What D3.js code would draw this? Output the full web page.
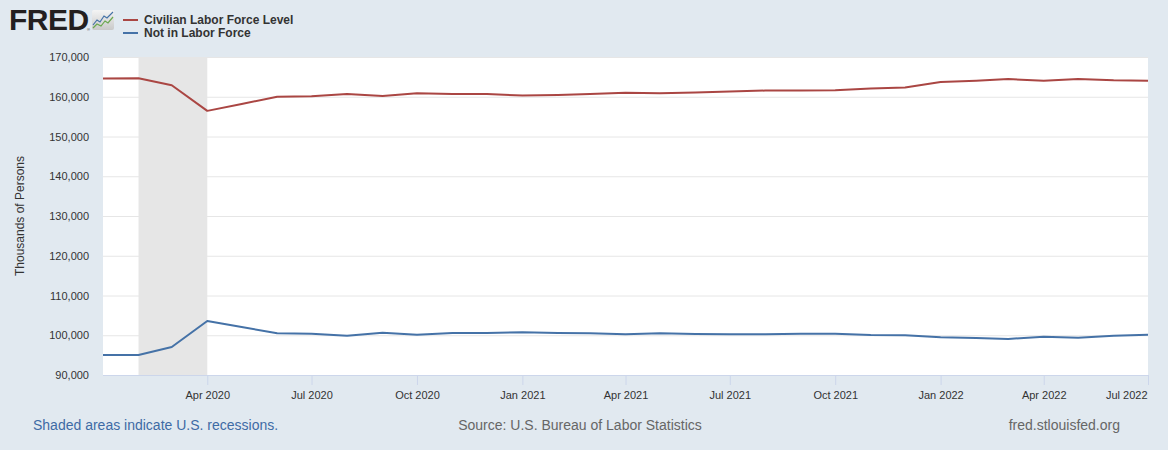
<!DOCTYPE html>
<html>
<head>
<meta charset="utf-8">
<script src="https://cdn.jsdelivr.net/npm/d3@7"></script>
<style>
html,body{margin:0;padding:0;background:#e1e9f0;}
svg{display:block;}
</style>
</head>
<body>
<svg id="chart" width="1168" height="450"></svg>
<script>
const months = ["2020-01","2020-02","2020-03","2020-04","2020-05","2020-06","2020-07","2020-08","2020-09","2020-10","2020-11","2020-12",
"2021-01","2021-02","2021-03","2021-04","2021-05","2021-06","2021-07","2021-08","2021-09","2021-10","2021-11","2021-12",
"2022-01","2022-02","2022-03","2022-04","2022-05","2022-06","2022-07"];
const civilianLaborForce = [164600,164650,162900,156450,158200,160000,160100,160700,160200,160900,160700,160700,
160300,160450,160700,161000,160850,161100,161350,161550,161550,161650,162100,162350,
163700,164050,164450,164050,164450,164130,164050];
const notInLaborForce = [95050,95050,97050,103600,102100,100480,100400,99900,100650,100150,100570,100570,
100740,100570,100480,100230,100480,100310,100230,100230,100400,100400,100060,99980,
99480,99310,99060,99640,99390,99900,100150];
const seriesNames = ["Civilian Labor Force Level","Not in Labor Force"];
const seriesColors = ["#aa4643","#4572a7"];
const recession = ["2020-02","2020-04"];
const yTicks = [90000,100000,110000,120000,130000,140000,150000,160000,170000];
const xTickMonths = ["2020-04","2020-07","2020-10","2021-01","2021-04","2021-07","2021-10","2022-01","2022-04","2022-07"];

const parse = d3.timeParse("%Y-%m");
const svg = d3.select("#chart");
const font = "'Liberation Sans', Arial, sans-serif";

const x = d3.scaleTime().domain([parse(months[0]), parse(months[months.length-1])]).range([103, 1148]);
const y = d3.scaleLinear().domain([90000,170000]).range([375, 57]);

// plot background
svg.append("rect").attr("x",x.range()[0]).attr("y",y.range()[1])
  .attr("width",x.range()[1]-x.range()[0]).attr("height",y.range()[0]-y.range()[1]).attr("fill","#fff");

// recession shading
svg.append("rect").attr("x",x(parse(recession[0]))).attr("y",y.range()[1])
  .attr("width",x(parse(recession[1]))-x(parse(recession[0]))).attr("height",y.range()[0]-y.range()[1])
  .attr("fill","#e6e6e6");

// y axis with gridlines
const yAxis = svg.append("g").attr("transform",`translate(${x.range()[0]},0)`)
  .call(d3.axisLeft(y).tickValues(yTicks).tickSize(-(x.range()[1]-x.range()[0])).tickPadding(14).tickFormat(d3.format(",")));
yAxis.select(".domain").remove();
yAxis.selectAll(".tick line").attr("stroke","#e6e6e6").attr("stroke-width",1);
yAxis.selectAll(".tick").filter(d=>d===90000).select("line").remove();
yAxis.selectAll("text").attr("fill","#333").style("font-family",font).style("font-size","11px");

// x axis
const xAxis = svg.append("g").attr("transform",`translate(0,${y.range()[0]})`)
  .call(d3.axisBottom(x).tickValues(xTickMonths.map(parse)).tickSize(10).tickPadding(6).tickFormat(d3.timeFormat("%b %Y")));
xAxis.select(".domain").attr("stroke","#ccd6eb").attr("d",`M${x.range()[0]},0.5H${x.range()[1]}`);
xAxis.selectAll(".tick line").attr("stroke","#ccd6eb");
xAxis.selectAll("text").attr("fill","#333").style("font-family",font).style("font-size","11px");
// keep last label inside the plot edge
xAxis.selectAll(".tick").filter((d,i,n)=>i===n.length-1).select("text").attr("text-anchor","end").attr("dx","-1");

// lines
const dates = months.map(parse);
[civilianLaborForce, notInLaborForce].forEach((vals,i)=>{
  const line = d3.line().x((d,j)=>x(dates[j])).y(d=>y(d));
  svg.append("path").datum(vals).attr("d",line).attr("fill","none")
    .attr("stroke",seriesColors[i]).attr("stroke-width",2).attr("stroke-linejoin","round");
});

// y axis title
svg.append("text").attr("transform","translate(24,216) rotate(-90)").attr("text-anchor","middle")
  .attr("fill","#333").style("font-family",font).style("font-size","12px").text("Thousands of Persons");

// FRED logo
svg.append("text").attr("x",9).attr("y",30).attr("fill","#231f20")
  .style("font-family","'Liberation Sans', Arial, sans-serif").style("font-weight","900").style("font-size","30px")
  .style("letter-spacing","-0.5px").text("FRED");
svg.append("text").attr("x",87).attr("y",31).attr("fill","#231f20").style("font-family",font).style("font-size","4px").text("®");
const icon = svg.append("g").attr("transform","translate(92,10)");
const grad = svg.append("defs").append("linearGradient").attr("id","ig").attr("x1",0).attr("y1",0).attr("x2",0).attr("y2",1);
grad.append("stop").attr("offset","0%").attr("stop-color","#f4f4f4");
grad.append("stop").attr("offset","100%").attr("stop-color","#c9c9c9");
icon.append("rect").attr("width",22).attr("height",20).attr("rx",2).attr("fill","url(#ig)");
icon.append("path").attr("d","M1,15 L5,10 L8,12 L12,6 L15,8 L21,2").attr("fill","none").attr("stroke","#4572a7").attr("stroke-width",1.2);
icon.append("path").attr("d","M1,18 L5,14 L9,16 L13,11 L16,13 L21,7").attr("fill","none").attr("stroke","#6aa84f").attr("stroke-width",1.2);

// legend
seriesNames.forEach((n,i)=>{
  const ly = 20 + i*13;
  svg.append("line").attr("x1",123).attr("x2",138).attr("y1",ly).attr("y2",ly)
    .attr("stroke",seriesColors[i]).attr("stroke-width",2);
  svg.append("text").attr("x",144).attr("y",ly+4).attr("fill","#333")
    .style("font-family",font).style("font-weight","bold").style("font-size","12px").text(n);
});

// footer
svg.append("text").attr("x",33).attr("y",430).attr("fill","#3e6ba5").style("font-family",font).style("font-size","14px")
  .text("Shaded areas indicate U.S. recessions.");
svg.append("text").attr("x",580).attr("y",430).attr("text-anchor","middle").attr("fill","#666").style("font-family",font).style("font-size","14px")
  .text("Source: U.S. Bureau of Labor Statistics");
svg.append("text").attr("x",1120).attr("y",430).attr("text-anchor","end").attr("fill","#666").style("font-family",font).style("font-size","14px")
  .text("fred.stlouisfed.org");
</script>
</body>
</html>
